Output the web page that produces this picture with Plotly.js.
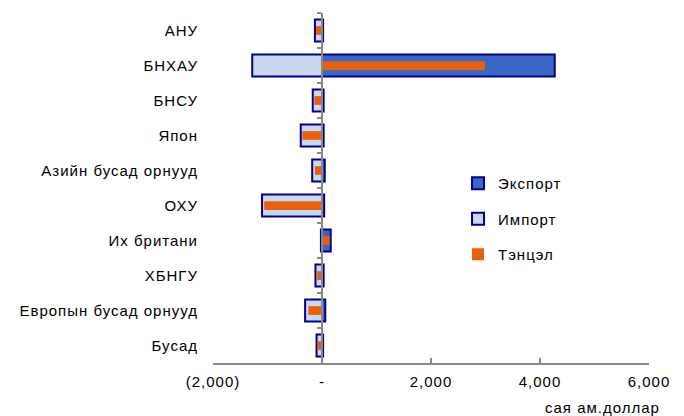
<!DOCTYPE html>
<html>
<head>
<meta charset="utf-8">
<script src="https://cdn.plot.ly/plotly-3.0.1.min.js"></script>
<style>
html,body{margin:0;padding:0;background:#fff;}
#chart{width:684px;height:416px;}
.xtick text,.ytick text,.legendtext,.annotation-text{letter-spacing:1px;}
</style>
</head>
<body>
<div id="chart"></div>
<script>
const categories = ['АНУ','БНХАУ','БНСУ','Япон','Азийн бусад орнууд','ОХУ','Их британи','ХБНГУ','Европын бусад орнууд','Бусад'];
const exportVals = [20, 4270, 30, 30, 50, 40, 160, 30, 60, 20];
const importVals = [130, 1280, 170, 390, 180, 1100, 20, 120, 310, 100];
const balanceVals = [-110, 2990, -140, -360, -130, -1060, 140, -90, -250, -80];
const xTickVals = [-2000, 0, 2000, 4000, 6000];
const xTickText = ['(2,000)', '-', '2,000', '4,000', '6,000'];
const unitLabel = 'сая ам.доллар';

const navy = '#00008B';
const font = {family: 'Liberation Sans, Arial, sans-serif', size: 15, color: '#000'};

const traces = [
  {type:'bar', orientation:'h', name:'Экспорт', y:categories, x:exportVals,
   width:0.63, marker:{color:'#3A67C4', line:{color:navy, width:2}},
   legendgroup:'a', xaxis:'x', yaxis:'y', hoverinfo:'skip'},
  {type:'bar', orientation:'h', name:'Импорт', y:categories, x:importVals.map(v => -v),
   width:0.63, marker:{color:'#C9D8F0', line:{color:navy, width:2}},
   legendgroup:'b', xaxis:'x', yaxis:'y', hoverinfo:'skip'},
  {type:'bar', orientation:'h', name:'Тэнцэл', y:categories, x:balanceVals,
   width:0.25, marker:{color:'#E8600A', line:{width:0}},
   legendgroup:'c', xaxis:'x', yaxis:'y2', hoverinfo:'skip'}
];

const layout = {
  width:684, height:416,
  margin:{l:213, r:35, t:13, b:53},
  paper_bgcolor:'#fff', plot_bgcolor:'#fff',
  font: font,
  barmode:'overlay',
  showlegend:true,
  legend:{x:0.562, y:0.56, xanchor:'left', yanchor:'top', font:font,
          tracegroupgap:13, bgcolor:'rgba(0,0,0,0)', traceorder:'grouped'},
  xaxis:{range:[-2000, 6000], tickvals:xTickVals, ticktext:xTickText,
         showgrid:false, zeroline:false, showline:true, linecolor:'#888', linewidth:2,
         ticks:'inside', ticklen:5, tickwidth:2, tickcolor:'#888',
         ticklabelstandoff:4, tickfont:font, fixedrange:true},
  yaxis:{type:'category', categoryorder:'array', categoryarray:categories,
         range:[9.5, -0.5], showgrid:false, zeroline:false, showline:false,
         ticks:'', ticklabelstandoff:14, tickfont:font, fixedrange:true},
  yaxis2:{type:'category', categoryorder:'array', categoryarray:categories,
          range:[9.5, -0.5], overlaying:'y', anchor:'free', position:0.25, side:'left',
          showgrid:false, zeroline:false, showline:true, linecolor:'#888', linewidth:2,
          ticks:'outside', tickson:'boundaries', ticklen:4, tickwidth:2, tickcolor:'#888',
          showticklabels:false, fixedrange:true},
  annotations:[{text:unitLabel, xref:'paper', yref:'paper', x:1.03, y:-0.126,
                xanchor:'right', yanchor:'middle', showarrow:false, font:font}]
};

Plotly.newPlot('chart', traces, layout, {displayModeBar:false, staticPlot:true});
</script>
</body>
</html>
